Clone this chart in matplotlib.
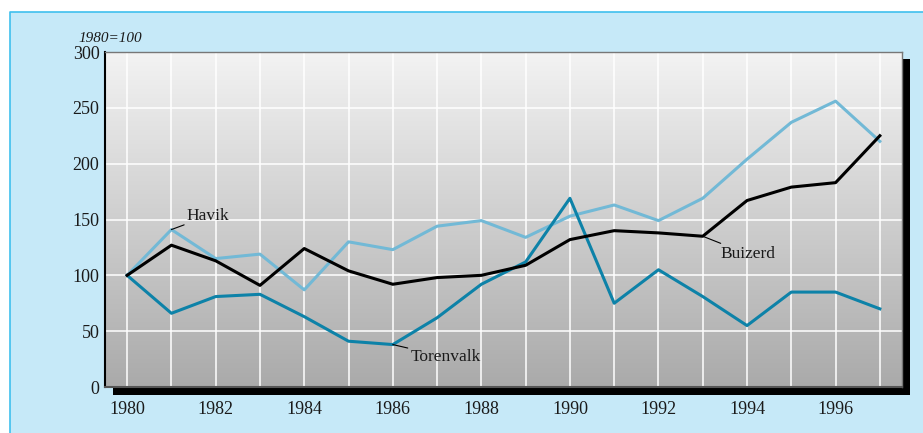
import numpy as np
import matplotlib.pyplot as plt
from matplotlib.patches import Rectangle
from matplotlib.lines import Line2D

years = list(range(1980, 1998))
havik = [100, 141, 115, 119, 87, 130, 123, 144, 149, 134, 153, 163, 149, 169, 204, 237, 256, 220]
buizerd = [100, 127, 113, 91, 124, 104, 92, 98, 100, 109, 132, 140, 138, 135, 167, 179, 183, 225]
torenvalk = [100, 66, 81, 83, 63, 41, 38, 62, 92, 112, 169, 75, 105, 81, 55, 85, 85, 70]

W, H = 923, 433
plt.rcParams['font.family'] = ['Liberation Serif', 'DejaVu Serif']

fig = plt.figure(figsize=(W / 100, H / 100), dpi=100, facecolor='white')

# light blue panel with border on top and left
fig.add_artist(Rectangle((10 / W, 0), 1, (H - 12) / H, transform=fig.transFigure,
                         facecolor='#c6e9f8', edgecolor='none', zorder=-3))
fig.add_artist(Line2D([10 / W, 10 / W, 1], [0, (H - 12) / H, (H - 12) / H],
                      transform=fig.transFigure, color='#3fc0ee', lw=1.2, zorder=-2))

# black drop shadow
fig.add_artist(Rectangle((113 / W, (H - 395) / H), (910 - 113) / W, (395 - 59) / H,
                         transform=fig.transFigure, facecolor='black', edgecolor='none', zorder=-1))

ax = fig.add_axes([105 / W, (H - 387) / H, (902 - 105) / W, (387 - 52) / H])
ax.set_zorder(1)

grad = np.linspace(0, 1, 256).reshape(-1, 1)
ax.imshow(grad, extent=[0, 1, 0, 1], transform=ax.transAxes, aspect='auto',
          cmap=plt.matplotlib.colors.LinearSegmentedColormap.from_list('g', ['#f3f3f3', '#aaaaaa']),
          zorder=0)

ax.set_xlim(1979.5, 1997.5)
ax.set_ylim(0, 300)
ax.set_xticks(range(1980, 1998, 2))
ax.set_xticks(years, minor=True)
ax.set_yticks(range(0, 301, 50))
ax.grid(True, which='both', axis='x', color='white', lw=1.1, zorder=1)
ax.grid(True, which='major', axis='y', color='white', lw=1.1, zorder=1)
ax.tick_params(length=0, labelsize=13, colors='#1a1a1a', which='both')
ax.tick_params(axis='x', pad=10)
ax.tick_params(axis='y', pad=4)

ax.plot(years, havik, color='#72b9d6', lw=2.2, zorder=3)
ax.plot(years, buizerd, color='black', lw=2.2, zorder=4)
ax.plot(years, torenvalk, color='#0d82a8', lw=2.2, zorder=3)

for s in ['top', 'right']:
    ax.spines[s].set_color('#777777')
    ax.spines[s].set_linewidth(1)
ax.spines['left'].set_color('black')
ax.spines['left'].set_linewidth(1.5)
ax.spines['bottom'].set_color('#555555')
ax.spines['bottom'].set_linewidth(1.5)

# series labels with leader lines
ax.annotate('Havik', xy=(1981, havik[1]), xytext=(1981.35, 146), fontsize=12.5, color='#1a1a1a',
            va='bottom', ha='left',
            arrowprops=dict(arrowstyle='-', color='black', lw=0.8, shrinkA=0, shrinkB=0))
ax.annotate('Buizerd', xy=(1993, buizerd[13]), xytext=(1993.4, 119), fontsize=12.5, color='#1a1a1a',
            va='center', ha='left',
            arrowprops=dict(arrowstyle='-', color='black', lw=0.8, shrinkA=0, shrinkB=0))
ax.annotate('Torenvalk', xy=(1986, torenvalk[6]), xytext=(1986.4, 27), fontsize=12.5, color='#1a1a1a',
            va='center', ha='left',
            arrowprops=dict(arrowstyle='-', color='black', lw=0.8, shrinkA=0, shrinkB=0))

fig.text(78 / W, (H - 42) / H, '1980=100', fontsize=11, style='italic', color='#1a1a1a',
         ha='left', va='baseline')

fig.savefig('out.png', dpi=100, facecolor=fig.get_facecolor())
